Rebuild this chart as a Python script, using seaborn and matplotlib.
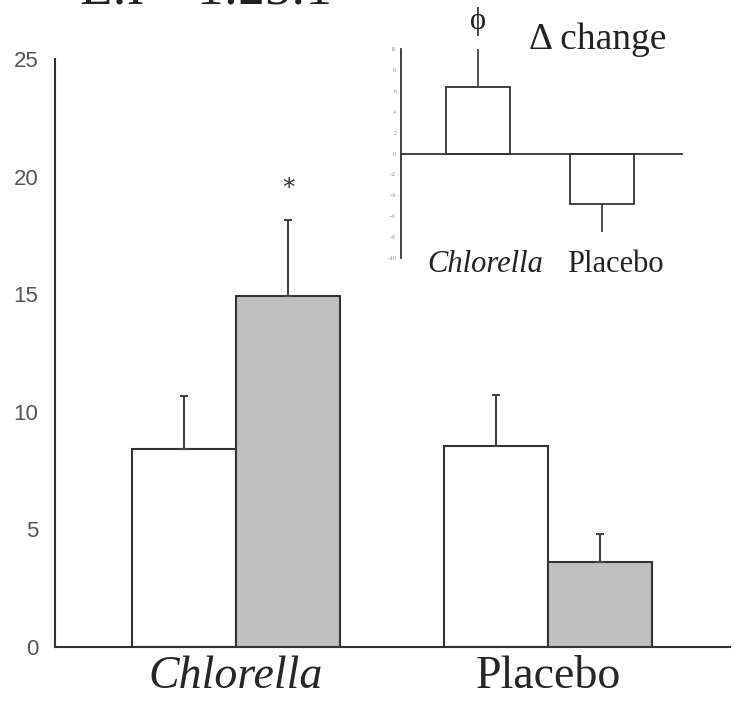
import pandas as pd
import matplotlib
matplotlib.use('Agg')
import matplotlib.pyplot as plt
import seaborn as sns

# dados
grupos = ['Chlorella', 'Placebo']
fases = ['antes', 'depois']
media_antes = [8.4, 8.55]
media_depois = [14.9, 3.6]
erro_antes = [2.27, 2.15]
erro_depois = [3.25, 1.2]

# inset: variacao (delta)
delta = [6.4, -4.8]
erro_delta = [3.6, 2.7]

sns.set_theme(style='white')
plt.rcParams['font.family'] = ['Liberation Serif', 'DejaVu Serif']

df = pd.DataFrame({
    'grupo': grupos * 2,
    'fase': [fases[0]] * 2 + [fases[1]] * 2,
    'valor': media_antes + media_depois,
})

fig = plt.figure(figsize=(7.34, 7.04), dpi=100)
ax = fig.add_axes([0.0749, 0.0814, 0.9197, 0.8348])

sns.barplot(data=df, x='grupo', y='valor', hue='fase', hue_order=fases,
            palette=['white', '#c0c0c0'], edgecolor='#333333', linewidth=1.5,
            width=0.667, errorbar=None, legend=False, ax=ax)

# barras de erro so para cima
for cont, erros in zip(ax.containers, [erro_antes, erro_depois]):
    xs = [p.get_x() + p.get_width() / 2 for p in cont.patches]
    ys = [p.get_height() for p in cont.patches]
    ax.errorbar(xs, ys, yerr=[[0] * len(erros), erros], fmt='none',
                ecolor='#444444', elinewidth=1.5, capsize=3, capthick=1.5)

# asterisco sobre Chlorella (depois)
p = ax.containers[1].patches[0]
ax.text(p.get_x() + p.get_width() / 2, 19.5, '*', ha='center', va='center',
        fontsize=18, color='#333333', family=['DejaVu Sans'])

ax.set_xlim(-0.58, 1.583)
ax.set_ylim(0, 25)
ax.set_yticks([0, 5, 10, 15, 20, 25])
ax.set_xlabel('')
ax.set_ylabel('')
ax.set_xticks([0, 1])
ax.set_xticklabels(grupos, fontsize=33)
ax.get_xticklabels()[0].set_style('italic')
ax.tick_params(axis='x', length=0, pad=6)
ax.tick_params(axis='y', direction='in', length=8, width=1.2, color='#333333',
               labelsize=16, labelcolor='#555555', pad=12)
for lab in ax.get_yticklabels():
    lab.set_family(['Liberation Sans', 'DejaVu Sans'])
for s in ['top', 'right']:
    ax.spines[s].set_visible(False)
for s in ['left', 'bottom']:
    ax.spines[s].set_color('#333333')
    ax.spines[s].set_linewidth(1.5)

# inset com a variacao
axi = fig.add_axes([0.5463, 0.6335, 0.3828, 0.2969])
df_d = pd.DataFrame({'grupo': grupos, 'delta': delta})
sns.barplot(data=df_d, x='grupo', y='delta', color='white', edgecolor='#333333',
            linewidth=1.3, width=0.51, errorbar=None, ax=axi)
for p, e in zip(axi.patches, erro_delta):
    h = p.get_height()
    cx = p.get_x() + p.get_width() / 2
    if h >= 0:
        axi.errorbar([cx], [h], yerr=[[0], [e]], fmt='none', ecolor='#444444', elinewidth=1.3)
    else:
        axi.errorbar([cx], [h], yerr=[[e], [0]], fmt='none', ecolor='#444444', elinewidth=1.3)

axi.set_xlim(-0.62, 1.645)
axi.set_ylim(-10, 10)
axi.set_yticks(range(-10, 11, 2))
axi.set_xticks([])
axi.set_xlabel('')
axi.set_ylabel('')
axi.patch.set_alpha(0)
axi.spines['bottom'].set_position(('data', 0))
for s in ['top', 'right']:
    axi.spines[s].set_visible(False)
for s in ['left', 'bottom']:
    axi.spines[s].set_color('#333333')
    axi.spines[s].set_linewidth(1.3)
axi.tick_params(axis='y', direction='inout', length=3, width=0.8, color='#555555',
                labelsize=4, labelcolor='#888888', pad=2)

# textos do inset
fig.text(485 / 734, 1 - 264 / 704, 'Chlorella', ha='center', va='center',
         fontsize=22, style='italic', color='#222222')
fig.text(615 / 734, 1 - 264 / 704, 'Placebo', ha='center', va='center',
         fontsize=22, color='#222222')
fig.text(478 / 734, 1 - 22 / 704, '\u03d5', ha='center', va='center',
         fontsize=22, color='#222222')
fig.text(598 / 734, 1 - 40 / 704, '\u0394 change', ha='center', va='center',
         fontsize=27, color='#222222')

# titulo cortado no topo
fig.text(80 / 734, 1 - 4 / 704, 'E:I \u2013 1:25:1', ha='left', va='baseline',
         fontsize=38, color='#222222')

fig.savefig('out.png', dpi=100)
